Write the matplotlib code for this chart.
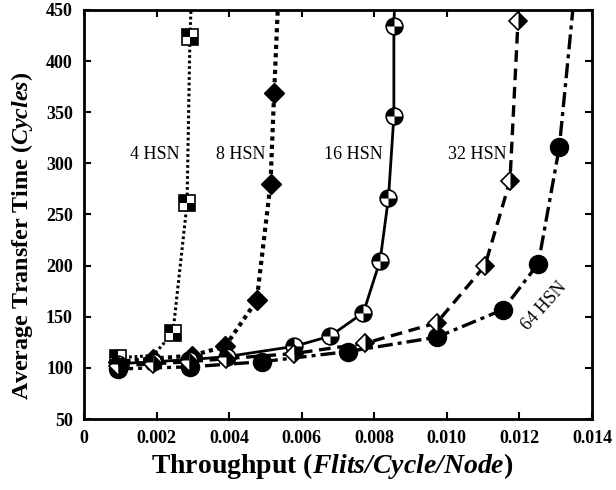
import numpy as np
import matplotlib
matplotlib.use("Agg")
import matplotlib.pyplot as plt
from matplotlib.path import Path

plt.rcParams['font.family'] = ['Liberation Serif', 'DejaVu Serif']
plt.rcParams['mathtext.fontset'] = 'custom'
plt.rcParams['mathtext.rm'] = 'Liberation Serif:bold'
plt.rcParams['mathtext.bf'] = 'Liberation Serif:bold'
plt.rcParams['mathtext.it'] = 'Liberation Serif:italic:bold'
plt.rcParams['mathtext.bfit'] = 'Liberation Serif:italic:bold'

# ---- data ----
x4 = [0.00094, 0.0019, 0.00245, 0.00284, 0.00292, 0.0030]
y4 = [110, 112, 134, 261, 424, 500]
m4 = [0, 2, 3, 4]   # points that show a marker

x8 = [0.00094, 0.0019, 0.00297, 0.00389, 0.00476, 0.00514, 0.00524, 0.0054]
y8 = [106, 109, 112, 121, 166, 280, 369, 500]

x16 = [0.00094, 0.0019, 0.0029, 0.00393, 0.00579, 0.00678, 0.0077, 0.00816, 0.00839, 0.00854, 0.00854, 0.0086]
y16 = [104, 106, 108, 111, 121, 131, 154, 205, 266, 346, 434, 500]

x32 = [0.00094, 0.0019, 0.0029, 0.0039, 0.00579, 0.00774, 0.00972, 0.01105, 0.01174, 0.01196, 0.0121]
y32 = [102, 104, 106, 109, 114, 124, 144, 200, 283, 439, 500]

x64 = [0.00094, 0.00292, 0.0049, 0.00728, 0.00972, 0.01155, 0.01252, 0.0131, 0.01361]
y64 = [99, 101, 106, 116, 130, 157, 202, 316, 500]

labels = ['4 HSN', '8 HSN', '16 HSN', '32 HSN', '64 HSN']
label_x = [0.00196, 0.00432, 0.00743, 0.01083, 0.01268]
label_y = [309, 309, 309, 309, 160]
label_rot = [0, 0, 0, 0, 48]

# ---- custom marker paths ----
def quad_square():
    verts = [(-1, 0), (0, 0), (0, 1), (-1, 1), (-1, 0),
             (0, -1), (1, -1), (1, 0), (0, 0), (0, -1)]
    codes = [Path.MOVETO, Path.LINETO, Path.LINETO, Path.LINETO, Path.CLOSEPOLY] * 2
    return Path(verts, codes)

def quad_circle():
    verts, codes = [], []
    for a0, a1 in [(90, 180), (270, 360)]:
        arc = Path.arc(a0, a1)
        verts += [(0, 0)] + list(arc.vertices) + [(0, 0)]
        codes += [Path.MOVETO] + [Path.LINETO] + list(arc.codes[1:]) + [Path.CLOSEPOLY]
    return Path(verts, codes)

def half_diamond():
    verts = [(0, 1), (1, 0), (0, -1), (0, 1)]
    codes = [Path.MOVETO, Path.LINETO, Path.LINETO, Path.CLOSEPOLY]
    return Path(verts, codes)

fig = plt.figure(figsize=(6.16, 4.90), dpi=100)
ax = fig.add_axes([84/616, 1-419/490, (592-84)/616, (419-10)/490])

k = 'black'
# 4 HSN
ax.plot(x4, y4, color=k, lw=2.2, ls=(0, (0.9, 0.9)), zorder=2)
ax.plot(x4, y4, ls='none', marker='s', ms=11, mfc='white', mec=k, mew=1.2, markevery=m4, zorder=3)
ax.plot(x4, y4, ls='none', marker=quad_square(), ms=11, mfc=k, mec='none', mew=0, markevery=m4, zorder=4)

# 8 HSN
ax.plot(x8, y8, color=k, lw=3.0, ls=(0, (1, 1)), marker='D', ms=10, mfc=k, mec=k, zorder=2)

# 16 HSN
ax.plot(x16, y16, color=k, lw=2.0, ls='-', zorder=2)
ax.plot(x16, y16, ls='none', marker='o', ms=12, mfc='white', mec=k, mew=1.2, zorder=3)
ax.plot(x16, y16, ls='none', marker=quad_circle(), ms=12, mfc=k, mec='none', mew=0, zorder=4)

# 32 HSN
dsz = 9
ax.plot(x32, y32, color=k, lw=2.4, ls=(0, (3.5, 2.0)), zorder=2)
ax.plot(x32, y32, ls='none', marker='D', ms=dsz, mfc='white', mec=k, mew=1.2, zorder=3)
ax.plot(x32, y32, ls='none', marker=half_diamond(), ms=dsz * 1.414, mfc=k, mec='none', zorder=4)

# 64 HSN
ax.plot(x64, y64, color=k, lw=2.4, ls=(0, (4.5, 1.5, 1.2, 1.5)), marker='o', ms=13,
        mfc=k, mec=k, zorder=2)

for t, lx, ly, r in zip(labels, label_x, label_y, label_rot):
    ax.text(lx, ly, t, fontsize=13, ha='center', va='center', rotation=r, zorder=5)

ax.set_xlim(0, 0.014)
ax.set_ylim(50, 450)
xt = [0, 0.002, 0.004, 0.006, 0.008, 0.010, 0.012, 0.014]
ax.set_xticks(xt)
ax.set_xticklabels(['0'] + ['%.3f' % v for v in xt[1:]])
ax.set_yticks(np.arange(50, 451, 50))
ax.tick_params(direction='in', top=True, right=True, length=5, width=1.5,
               labelsize=13, pad=8)
for lab in ax.get_xticklabels() + ax.get_yticklabels():
    lab.set_fontweight('bold')
for s in ax.spines.values():
    s.set_linewidth(2)

ax.set_xlabel(r'Throughput ($\mathbfit{Flits/Cycle/Node}$)', fontsize=20, fontweight='bold')
ax.set_ylabel(r'Average Transfer Time ($\mathbfit{Cycles}$)', fontsize=17.3, fontweight='bold')
ax.xaxis.set_label_coords(0.488, -0.115)
ax.yaxis.set_label_coords(-0.122, 0.448)
ax.xaxis.label.set_va('center')
ax.yaxis.label.set_va('center')

fig.savefig('out.png', dpi=100)
